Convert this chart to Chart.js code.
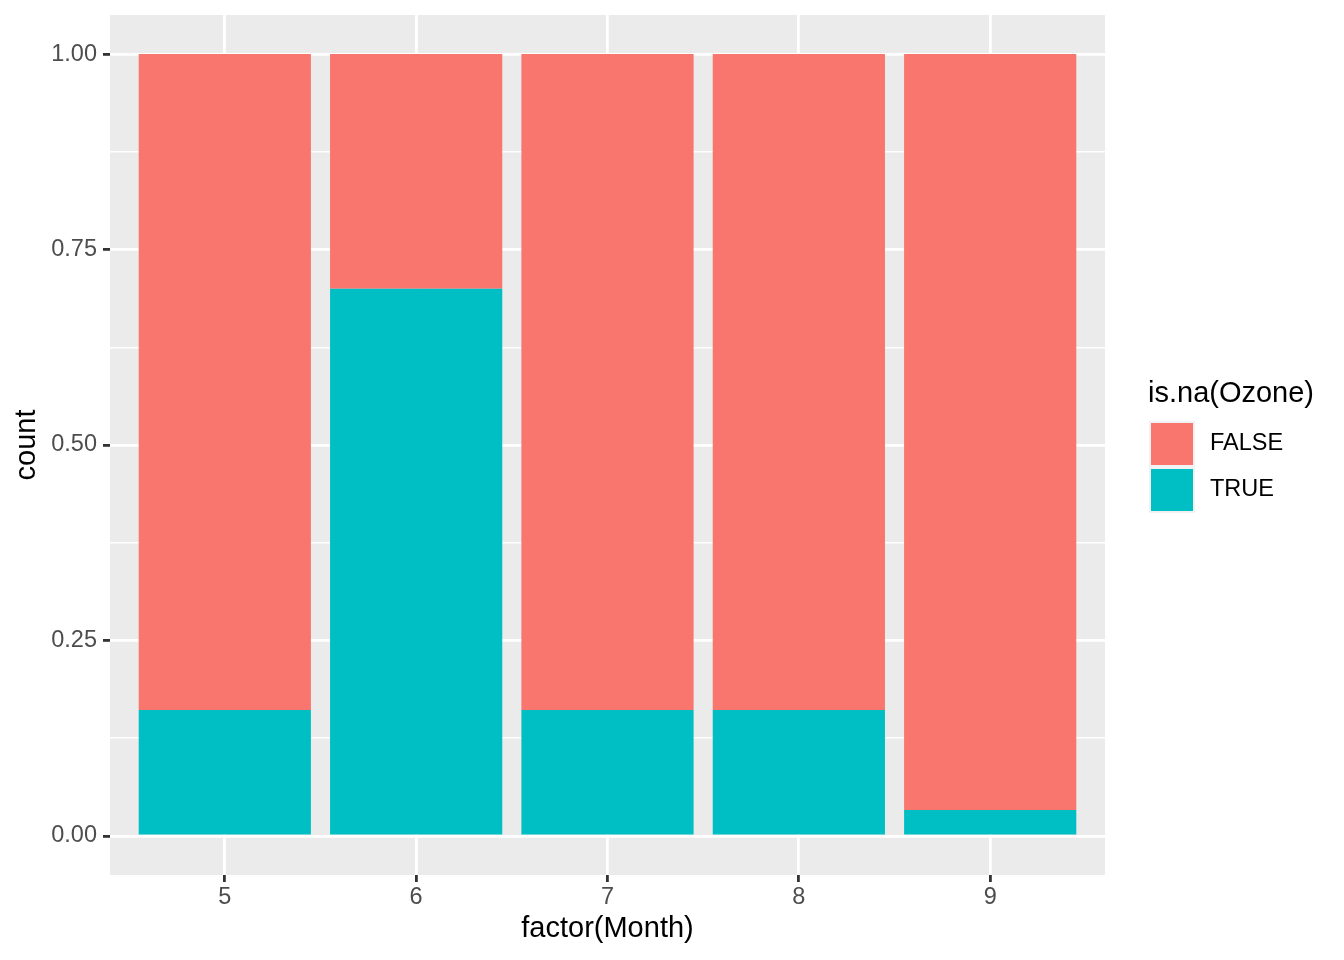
<!DOCTYPE html>
<html>
<head>
<meta charset="utf-8">
<script src="https://cdn.jsdelivr.net/npm/chart.js@4.4.1/dist/chart.umd.min.js"></script>
<style>
  html, body { margin: 0; padding: 0; background: #fff; }
</style>
</head>
<body>
<canvas id="chart" width="1344" height="960"></canvas>
<script>
// share of days with missing ozone, per month (airquality)
const months = [5, 6, 7, 8, 9];
const trueShare = [0.161, 0.7, 0.161, 0.161, 0.033];
const falseShare = [0.839, 0.3, 0.839, 0.839, 0.967];
const yMajor = [0, 0.25, 0.5, 0.75, 1];
const yMinor = [0.125, 0.375, 0.625, 0.875];
const legendTitle = "is.na(Ozone)";

Chart.defaults.font.family = "'Liberation Sans', Arial, sans-serif";

const isMajor = (v) => yMajor.some((m) => Math.abs(m - v) < 1e-9);

// grey panel behind the grid
const panelBg = {
  id: "panelBg",
  beforeDraw(chart) {
    const { ctx, chartArea: a } = chart;
    ctx.save();
    ctx.fillStyle = "#EBEBEB";
    ctx.fillRect(a.left, a.top, a.right - a.left, a.bottom - a.top);
    ctx.restore();
  },
};

// ggplot-like legend on the right, FALSE above TRUE
const sideLegend = {
  id: "sideLegend",
  afterDraw(chart) {
    const { ctx, chartArea: a } = chart;
    const mid = (a.top + a.bottom) / 2;
    const x0 = a.right + 44;
    const key = 46;
    const items = chart.data.datasets.slice().reverse();
    ctx.save();
    ctx.textBaseline = "middle";
    ctx.textAlign = "left";
    ctx.fillStyle = "#000";
    ctx.font = "29px 'Liberation Sans', Arial, sans-serif";
    ctx.fillText(legendTitle, x0 - 1, mid - 51);
    ctx.font = "23.5px 'Liberation Sans', Arial, sans-serif";
    items.forEach((ds, i) => {
      const top = mid - 24 + i * key;
      ctx.fillStyle = "#F2F2F2";
      ctx.fillRect(x0, top, key, key);
      ctx.fillStyle = ds.backgroundColor;
      ctx.fillRect(x0 + 2, top + 2, key - 4, key - 4);
      ctx.fillStyle = "#000";
      ctx.fillText(ds.label, x0 + 61, top + key / 2);
    });
    ctx.restore();
  },
};

new Chart(document.getElementById("chart"), {
  type: "bar",
  data: {
    datasets: [
      {
        label: "TRUE",
        data: months.map((m, i) => ({ x: m, y: trueShare[i] })),
        backgroundColor: "#00BFC4",
      },
      {
        label: "FALSE",
        data: months.map((m, i) => ({ x: m, y: falseShare[i] })),
        backgroundColor: "#F8766D",
      },
    ],
  },
  options: {
    responsive: false,
    animation: false,
    layout: { padding: { top: 15, right: 239, bottom: 0, left: 0 } },
    datasets: {
      bar: { barPercentage: 0.9, categoryPercentage: 1, borderWidth: 0 },
    },
    plugins: {
      legend: { display: false },
      tooltip: { enabled: false },
    },
    scales: {
      x: {
        type: "linear",
        stacked: true,
        min: 4.4,
        max: 9.6,
        offset: false,
        afterBuildTicks(scale) {
          scale.ticks = months.map((v) => ({ value: v }));
        },
        afterFit(scale) {
          scale.height = 85;
          scale.paddingLeft = 0;
          scale.paddingRight = 0;
        },
        border: { display: false },
        grid: {
          offset: false,
          color: "#FFFFFF",
          lineWidth: 2.8,
          tickColor: "#333333",
          tickLength: 7,
          tickWidth: 2.8,
        },
        ticks: {
          autoSkip: false,
          maxRotation: 0,
          padding: 1,
          color: "#4D4D4D",
          font: { size: 23.5 },
          callback: (v) => String(v),
        },
        title: {
          display: true,
          text: "factor(Month)",
          color: "#000",
          font: { size: 29 },
          padding: { top: 0, bottom: 14 },
        },
      },
      y: {
        stacked: true,
        min: -0.05,
        max: 1.05,
        afterBuildTicks(scale) {
          scale.ticks = yMajor.concat(yMinor).sort((a, b) => a - b).map((v) => ({ value: v }));
        },
        afterFit(scale) {
          scale.width = 110;
          scale.paddingTop = 0;
          scale.paddingBottom = 0;
        },
        border: { display: false },
        grid: {
          color: "#FFFFFF",
          lineWidth: (c) => (c.tick && !isMajor(c.tick.value) ? 1.4 : 2.8),
          tickColor: (c) => (c.tick && !isMajor(c.tick.value) ? "rgba(0,0,0,0)" : "#333333"),
          tickLength: 7,
          tickWidth: 2.8,
        },
        ticks: {
          padding: 6,
          color: "#4D4D4D",
          font: { size: 23.5 },
          callback: (v) => (isMajor(v) ? v.toFixed(2) : ""),
        },
        title: {
          display: true,
          text: "count",
          color: "#000",
          font: { size: 29 },
          padding: { top: 10, bottom: 0 },
        },
      },
    },
  },
  plugins: [panelBg, sideLegend],
});
</script>
</body>
</html>
